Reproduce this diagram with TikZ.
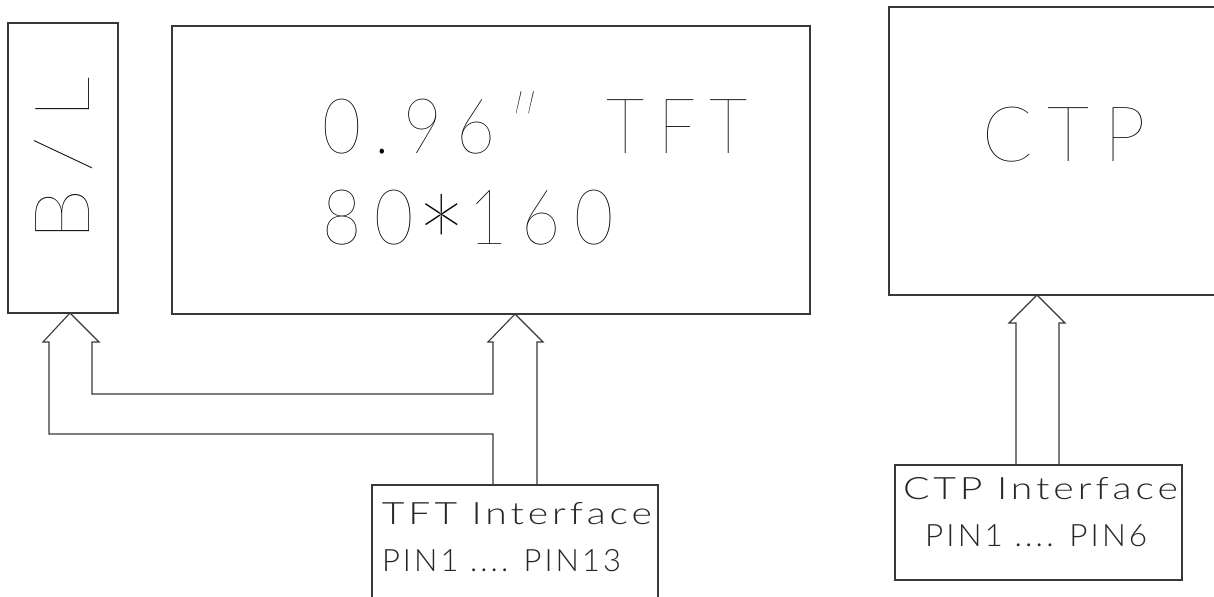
\documentclass[tikz,border=0pt]{standalone}
\usepackage{fontspec}
\usetikzlibrary{fit}
\IfFontExistsTF{Lato Hairline}{%
  \newfontfamily\cadfont{Lato Hairline}[LetterSpace=20]}{%
\IfFontExistsTF{Lato Thin}{%
  \newfontfamily\cadfont{Lato Thin}[LetterSpace=20]}{%
  \newfontfamily\cadfont{Lato Light}[LetterSpace=20]}}
\IfFontExistsTF{Lato Light}{%
  \newfontfamily\cadsmallfont{Lato Light}[LetterSpace=10]}{%
  \newfontfamily\cadsmallfont{Lato}[LetterSpace=10]}
\IfFontExistsTF{DejaVu Sans ExtraLight}{%
  \newfontfamily\symfont{DejaVu Sans ExtraLight}}{%
  \newfontfamily\symfont{DejaVu Sans}}
\tikzset{
  ln/.style={draw=black!78, line width=0.55pt, line join=miter, line cap=butt},
  box/.style={ln, inner sep=0pt, outer sep=0pt},
  cadbig/.style={inner sep=0pt, outer sep=0pt, anchor=base, text=black,
    font=\cadfont\fontsize{38.4}{45}\selectfont},
  cadsmall/.style={inner sep=0pt, outer sep=0pt, anchor=base, text=black!85,
    font=\cadsmallfont\fontsize{15.4}{20}\selectfont},
}
\newcommand\wfit[2]{\resizebox{#1pt}{\height}{#2}}
\newcommand\dprime{\iffontchar\font"2033 ″\else{\symfont ″}\fi}
\begin{document}
\begin{tikzpicture}[x=0.5pt,y=-0.5pt]
\useasboundingbox[fill=white] (0,0) rectangle (1214,597);

% boxes
\node[box, fit={(8,23) (118,313)}] (bl) {};
\node[box, fit={(172,26) (810,314)}] (tft) {};
\node[box, fit={(889,7) (1240,295)}] (ctp) {};
\node[box, fit={(372,485) (658,620)}] (tftif) {};
\node[box, fit={(895,465) (1182,580)}] (ctpif) {};

% texts
\node[cadbig, rotate=90] (bltxt) at (89,168) {\wfit{74}{B/L\kern-0.2em}};
\node[cadbig] (tfttxt1) at (528.5,154) {\wfit{206}{0.96\dprime{} \ TFT\kern-0.2em}};
\node[cadbig] (tfttxt2) at (461,245) {\wfit{139}{80\raisebox{-28.5pt}{\scalebox{1.9}{*}}160\kern-0.2em}};
\node[cadbig] (ctptxt) at (1056.5,162) {\wfit{74.5}{CTP\kern-0.2em}};
\node[cadsmall] (tftiftxt1) at (515,524) {\wfit{133}{TFT Interface\kern-0.1em}};
\node[cadsmall] (tftiftxt2) at (500,572) {\wfit{118}{PIN1 .... PIN13\kern-0.1em}};
\node[cadsmall] (ctpiftxt1) at (1038.5,500) {\wfit{135.5}{CTP Interface\kern-0.1em}};
\node[cadsmall] (ctpiftxt2) at (1034.5,547) {\wfit{109.5}{PIN1 .... PIN6\kern-0.1em}};

% arrow geometry
\coordinate (tipA) at (70,313);
\coordinate (tipB) at (515,314);
\coordinate (tipC) at (1037,295);
\coordinate (joinL) at (493,485);
\coordinate (joinR) at (537,485);
\coordinate (joinC1) at (1016,465);
\coordinate (joinC2) at (1059,465);

% TFT interface -> B/L and TFT
\draw[ln] (joinL) -- (493,434) -- (49,434) -- (49,342) -- (43,342) -- (tipA)
  -- (99,342) -- (92,342) -- (92,394) -- (493,394) -- (493,342) -- (488,342)
  -- (tipB) -- (543,342) -- (537,342) -- (joinR);

% CTP interface -> CTP
\draw[ln] (joinC1) -- (1016,323) -- (1009,323) -- (tipC) -- (1065,323)
  -- (1059,323) -- (joinC2);
\end{tikzpicture}
\end{document}
